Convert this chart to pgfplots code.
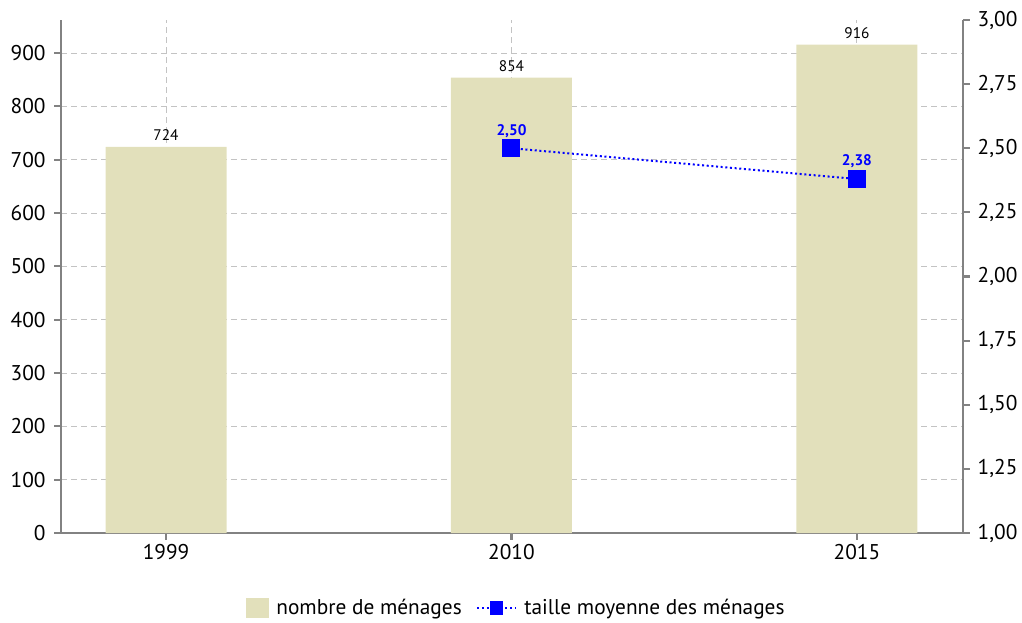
\documentclass[border=0pt]{standalone}
\usepackage{pgfplots}
\pgfplotsset{compat=1.18}
\usepackage{fontspec}
\setmainfont{PT Sans}
\definecolor{barcol}{RGB}{226,224,187}
\definecolor{axgray}{RGB}{130,130,130}
\definecolor{gridgray}{RGB}{195,195,195}
\definecolor{lineblue}{RGB}{0,0,255}
\begin{document}
\begin{tikzpicture}
\path[use as bounding box] (-45.75pt,-66.75pt) rectangle (720.75pt,399.75pt);
\begin{axis}[
  scale only axis, width=676.5pt, height=384.75pt,
  at={(0,0)}, anchor=south west,
  xmin=-0.304, xmax=2.307, ymin=0, ymax=962,
  axis x line*=bottom, axis y line*=left,
  axis line style={-, draw=axgray, line width=1.6pt},
  xtick={0,1,2}, xticklabels={1999,2010,2015},
  ytick={0,100,...,900},
  tick align=outside, major tick length=5pt,
  tick style={draw=axgray, line width=1.6pt},
  xmajorgrids, ymajorgrids,
  grid style={gridgray, dash pattern=on 4.5pt off 3pt, line width=0.75pt},
  ticklabel style={font=\fontsize{16}{19}\selectfont, black},
  yticklabel style={xshift=-3pt},
  /pgf/number format/assume math mode=true,
  /pgf/number format/1000 sep={},
]
\addplot[ybar, bar width=90.75pt, fill=barcol, draw=none,
  nodes near coords,
  every node near coord/.append style={font=\fontsize{11.5}{13}\selectfont, black, yshift=1pt}]
  coordinates {(0,724) (1,854) (2,916)};
\end{axis}
\begin{axis}[
  scale only axis, width=676.5pt, height=384.75pt,
  at={(0,0)}, anchor=south west,
  xmin=-0.304, xmax=2.307, ymin=1, ymax=3,
  axis x line=none, axis y line*=right,
  axis line style={-, draw=axgray, line width=1.6pt},
  ytick={1,1.25,...,3},
  tick align=outside, major tick length=5pt,
  tick style={draw=axgray, line width=1.6pt},
  ticklabel style={font=\fontsize{16}{19}\selectfont, black},
  yticklabel style={xshift=2.5pt},
  /pgf/number format/assume math mode=true,
  yticklabel={\pgfmathprintnumber[fixed, fixed zerofill, precision=2, use comma]{\tick}},
  legend style={at={(0.505,-0.146)}, anchor=center, draw=none, fill=none,
    font=\fontsize{16}{19}\selectfont, legend columns=2,
    /tikz/every odd column/.append style={column sep=4pt},
    /tikz/every even column/.append style={column sep=9pt}},
]
\addlegendimage{legend image code/.code={\fill[barcol] (0pt,-7pt) rectangle (16.5pt,7pt);}}
\addlegendentry{nombre de ménages}
\addplot[lineblue, line width=1.5pt, dash pattern=on 1.5pt off 2pt,
  mark=square*, mark size=6pt, mark options={solid, fill=lineblue},
  nodes near coords={\pgfmathprintnumber[fixed, fixed zerofill, precision=2, use comma]{\pgfplotspointmeta}},
  every node near coord/.append style={font=\bfseries\fontsize{11.5}{13}\selectfont, lineblue, yshift=4pt},
  legend image code/.code={
    \path[draw=lineblue, line width=1.5pt, dash pattern=on 1.5pt off 2pt] (0pt,0pt) -- (28.5pt,0pt);
    \path[fill=lineblue, draw=none] (9.5pt,-5.5pt) rectangle (19.5pt,5.5pt);}]
  coordinates {(1,2.50) (2,2.38)};
\addlegendentry{taille moyenne des ménages}
\end{axis}
\end{tikzpicture}
\end{document}
